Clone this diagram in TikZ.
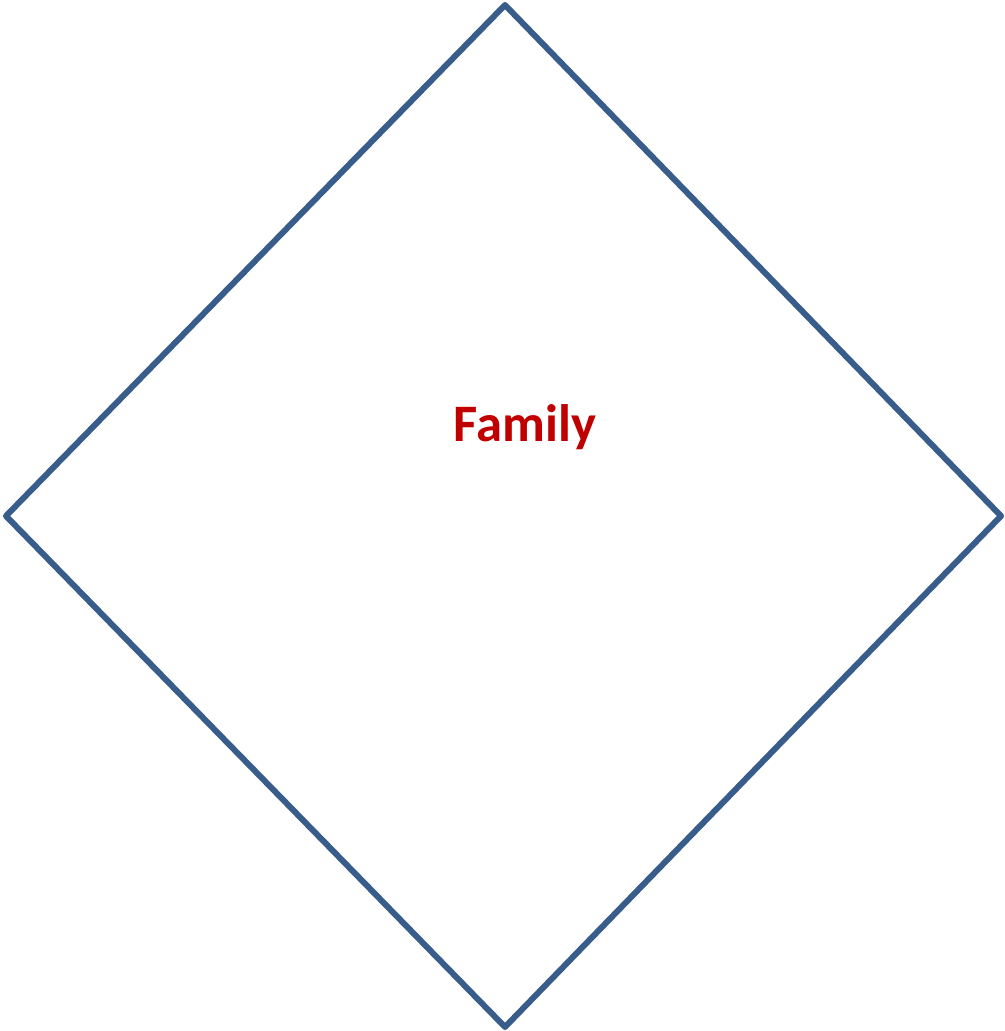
\documentclass[tikz,border=0pt]{standalone}
\usepackage{fontspec}
\setmainfont{Carlito}
\definecolor{rhombline}{RGB}{56,93,138}
\definecolor{famred}{RGB}{192,0,0}
\tikzset{every picture/.style={line width=0.75pt}}

\begin{document}
\begin{tikzpicture}[x=0.75pt,y=0.75pt,yscale=-1,xscale=1]
\useasboundingbox (0,0) rectangle (1005,1031);

%Shape: Diamond [id:dp_rhombus]
\draw [color=rhombline, line width=4.5pt, line join=round] (505,5) -- (1001,516) -- (505,1027) -- (6,516) -- cycle ;
% Text Node
\node (famlabel) [color=famred, font=\fontsize{39.5}{47}\selectfont\bfseries] at (525,427) {Family};

\end{tikzpicture}
\end{document}
